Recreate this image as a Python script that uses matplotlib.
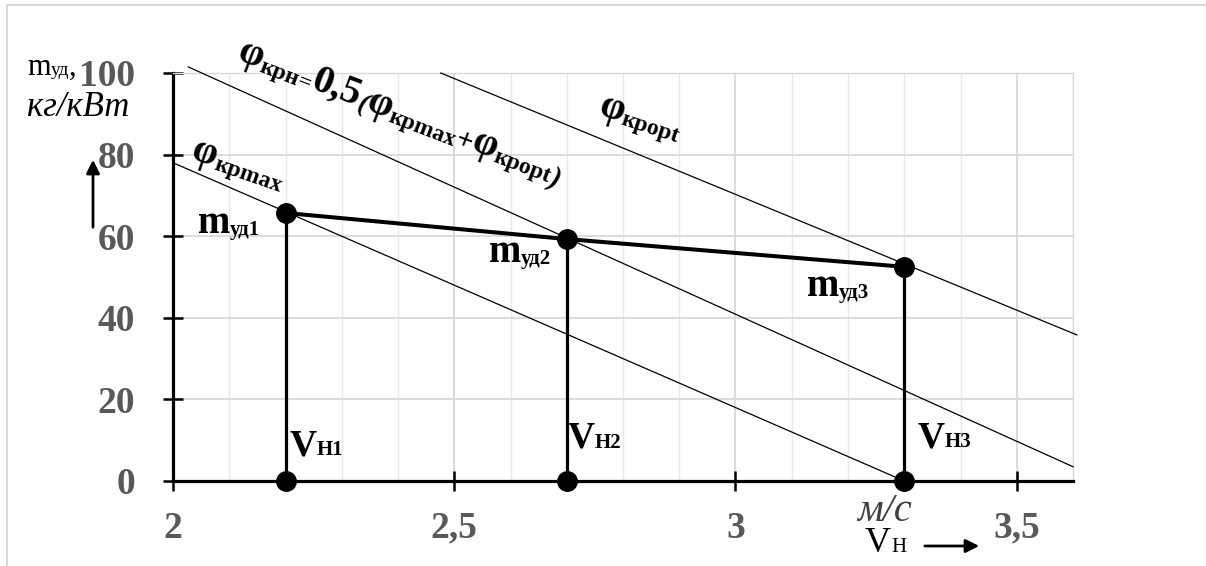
import numpy as np
import matplotlib
matplotlib.use("Agg")
import matplotlib.pyplot as plt
from matplotlib.patches import Rectangle

plt.rcParams['font.family'] = ['Liberation Serif', 'DejaVu Serif']

# --- données ---
v_h = [2.2, 2.7, 3.3]
m_ud = [65.7, 59.3, 52.5]

phi_max_x = [2.0, 3.3]
phi_max_y = [78.0, 0.0]
phi_n_x = [2.027, 3.6]
phi_n_y = [101.5, 3.5]
phi_opt_x = [2.476, 3.607]
phi_opt_y = [100.0, 35.8]

x_ticks = [2, 2.5, 3, 3.5]
x_labels = ['2', '2,5', '3', '3,5']
y_ticks = [0, 20, 40, 60, 80, 100]
y_labels = ['0', '20', '40', '60', '80', '100']

W, H = 1206, 566
fig = plt.figure(figsize=(W / 100, H / 100), dpi=100)
ax = fig.add_axes([173 / W, (H - 481) / H, (1073 - 173) / W, (481 - 73) / H])
ax.set_xlim(2, 3.6)
ax.set_ylim(0, 100)

# grille
ax.set_xticks(np.arange(2, 3.61, 0.1), minor=True)
ax.grid(which='minor', axis='x', color='#e8e8e8', lw=1.0)
ax.grid(which='major', axis='both', color='#d9d9d9', lw=1.3)
ax.set_axisbelow(True)

for s in ('top', 'right'):
    ax.spines[s].set_color('#d9d9d9')
    ax.spines[s].set_linewidth(1.0)
for s in ('left', 'bottom'):
    ax.spines[s].set_color('black')
    ax.spines[s].set_linewidth(2.3)

ax.set_xticks(x_ticks)
ax.set_xticklabels(x_labels)
ax.set_yticks(y_ticks)
ax.set_yticklabels(y_labels)
ax.tick_params(which='major', direction='inout', length=15, width=1.8,
               labelsize=27, labelcolor='#595959')
ax.tick_params(axis='x', pad=14)
ax.tick_params(axis='y', pad=20)
ax.tick_params(which='minor', length=0)
for t in ax.get_xticklabels() + ax.get_yticklabels():
    t.set_fontweight('bold')

# droites phi
for xs, ys in ((phi_max_x, phi_max_y), (phi_n_x, phi_n_y), (phi_opt_x, phi_opt_y)):
    ax.plot(xs, ys, color='black', lw=0.9, clip_on=False, zorder=3)

# verticales + polyligne
for v, m in zip(v_h, m_ud):
    ax.plot([v, v], [0, m], color='black', lw=2.3, zorder=4)
ax.plot(v_h, m_ud, color='black', lw=2.9, zorder=4)
ax.plot(v_h, m_ud, 'o', color='black', ms=14, zorder=5, clip_on=False)
ax.plot(v_h, [0] * len(v_h), 'o', color='black', ms=14, zorder=5, clip_on=False)

renderer = fig.canvas.get_renderer()
inv = fig.transFigure.inverted()


def rich(x0, y0, parts, angle=0.0):
    """Texte composé de morceaux (texte, taille, décalage vertical px, kwargs) à partir d'un point en pixels."""
    a = np.deg2rad(angle)
    cx = 0.0
    for s, size, dy, kw in parts:
        px = x0 + cx * np.cos(a) - dy * np.sin(a)
        py = y0 + cx * np.sin(a) + dy * np.cos(a)
        fx, fy = inv.transform((px, py))
        t = fig.text(fx, fy, s, fontsize=size, ha='left', va='baseline',
                     rotation_mode='anchor', **kw)
        cx += t.get_window_extent(renderer).width
        t.set_rotation(angle)


def rich_img(x, y, parts, angle=0.0):
    rich(x, H - y, parts, angle)


B = dict(fontweight='bold', color='black')
BI = dict(fontweight='bold', fontstyle='italic', color='black')
R = dict(color='black')

# étiquettes des points
def m_lab(i):
    return [('m', 28, 0, B), ('уд' + str(i), 15, -2, B)]

def v_lab(i):
    return [('V', 27, 0, B), ('Н' + str(i), 15, 0, B)]

rich_img(198, 233, m_lab(1))
rich_img(489, 262, m_lab(2))
rich_img(807, 296, m_lab(3))
rich_img(290, 455, v_lab(1))
rich_img(568, 448, v_lab(2))
rich_img(918, 447, v_lab(3))

# étiquettes des droites
PH, SB = 29, 17
rich_img(190, 158, [('φ', PH, 0, B), ('крmax', SB, -3, B)], angle=-19)
rich_img(236, 60, [('φ', PH, 0, B), ('крн', SB, -3, B), ('=', SB, -3, B),
                   ('0,5', PH, 0, B), ('(', 20, -3, BI),
                   ('φ', PH, 0, B), ('крmax', SB, -3, B), ('+', 21, -2, B),
                   ('φ', PH, 0, B), ('кроpt', SB, -3, B), (')', 21, -3, BI)], angle=-21)
rich_img(597, 114, [('φ', PH, 0, B), ('кроpt', SB, -3, B)], angle=-18)

# titres des axes
rich_img(27, 75, [('m', 22, 0, R), ('уд', 14, 0, R), (',', 22, 0, R)])
fig.text(27 / W, 1 - 116 / H, 'кг/кВт', fontsize=25, fontstyle='italic',
         ha='left', va='baseline')
fig.text(857 / W, 1 - 521 / H, 'м/с', fontsize=29, fontstyle='italic',
         color='#404040', ha='left', va='baseline')
rich_img(865, 552, [('V', 26, 0, R), ('Н', 15, 0, R)])

ax.annotate('', xy=(93, H - 157), xytext=(93, H - 230), xycoords='figure pixels',
            arrowprops=dict(arrowstyle='-|>', lw=2, color='black', mutation_scale=20))
ax.annotate('', xy=(982, H - 546), xytext=(922, H - 546), xycoords='figure pixels',
            arrowprops=dict(arrowstyle='-|>', lw=2, color='black', mutation_scale=20))

# cadre de la figure
fig.patches.append(Rectangle((7 / W, -0.05), 1.1, 1 - 5 / H + 0.05,
                             transform=fig.transFigure, fill=False,
                             edgecolor='#d9d9d9', lw=1.5))

fig.savefig('out.png', dpi=100)
